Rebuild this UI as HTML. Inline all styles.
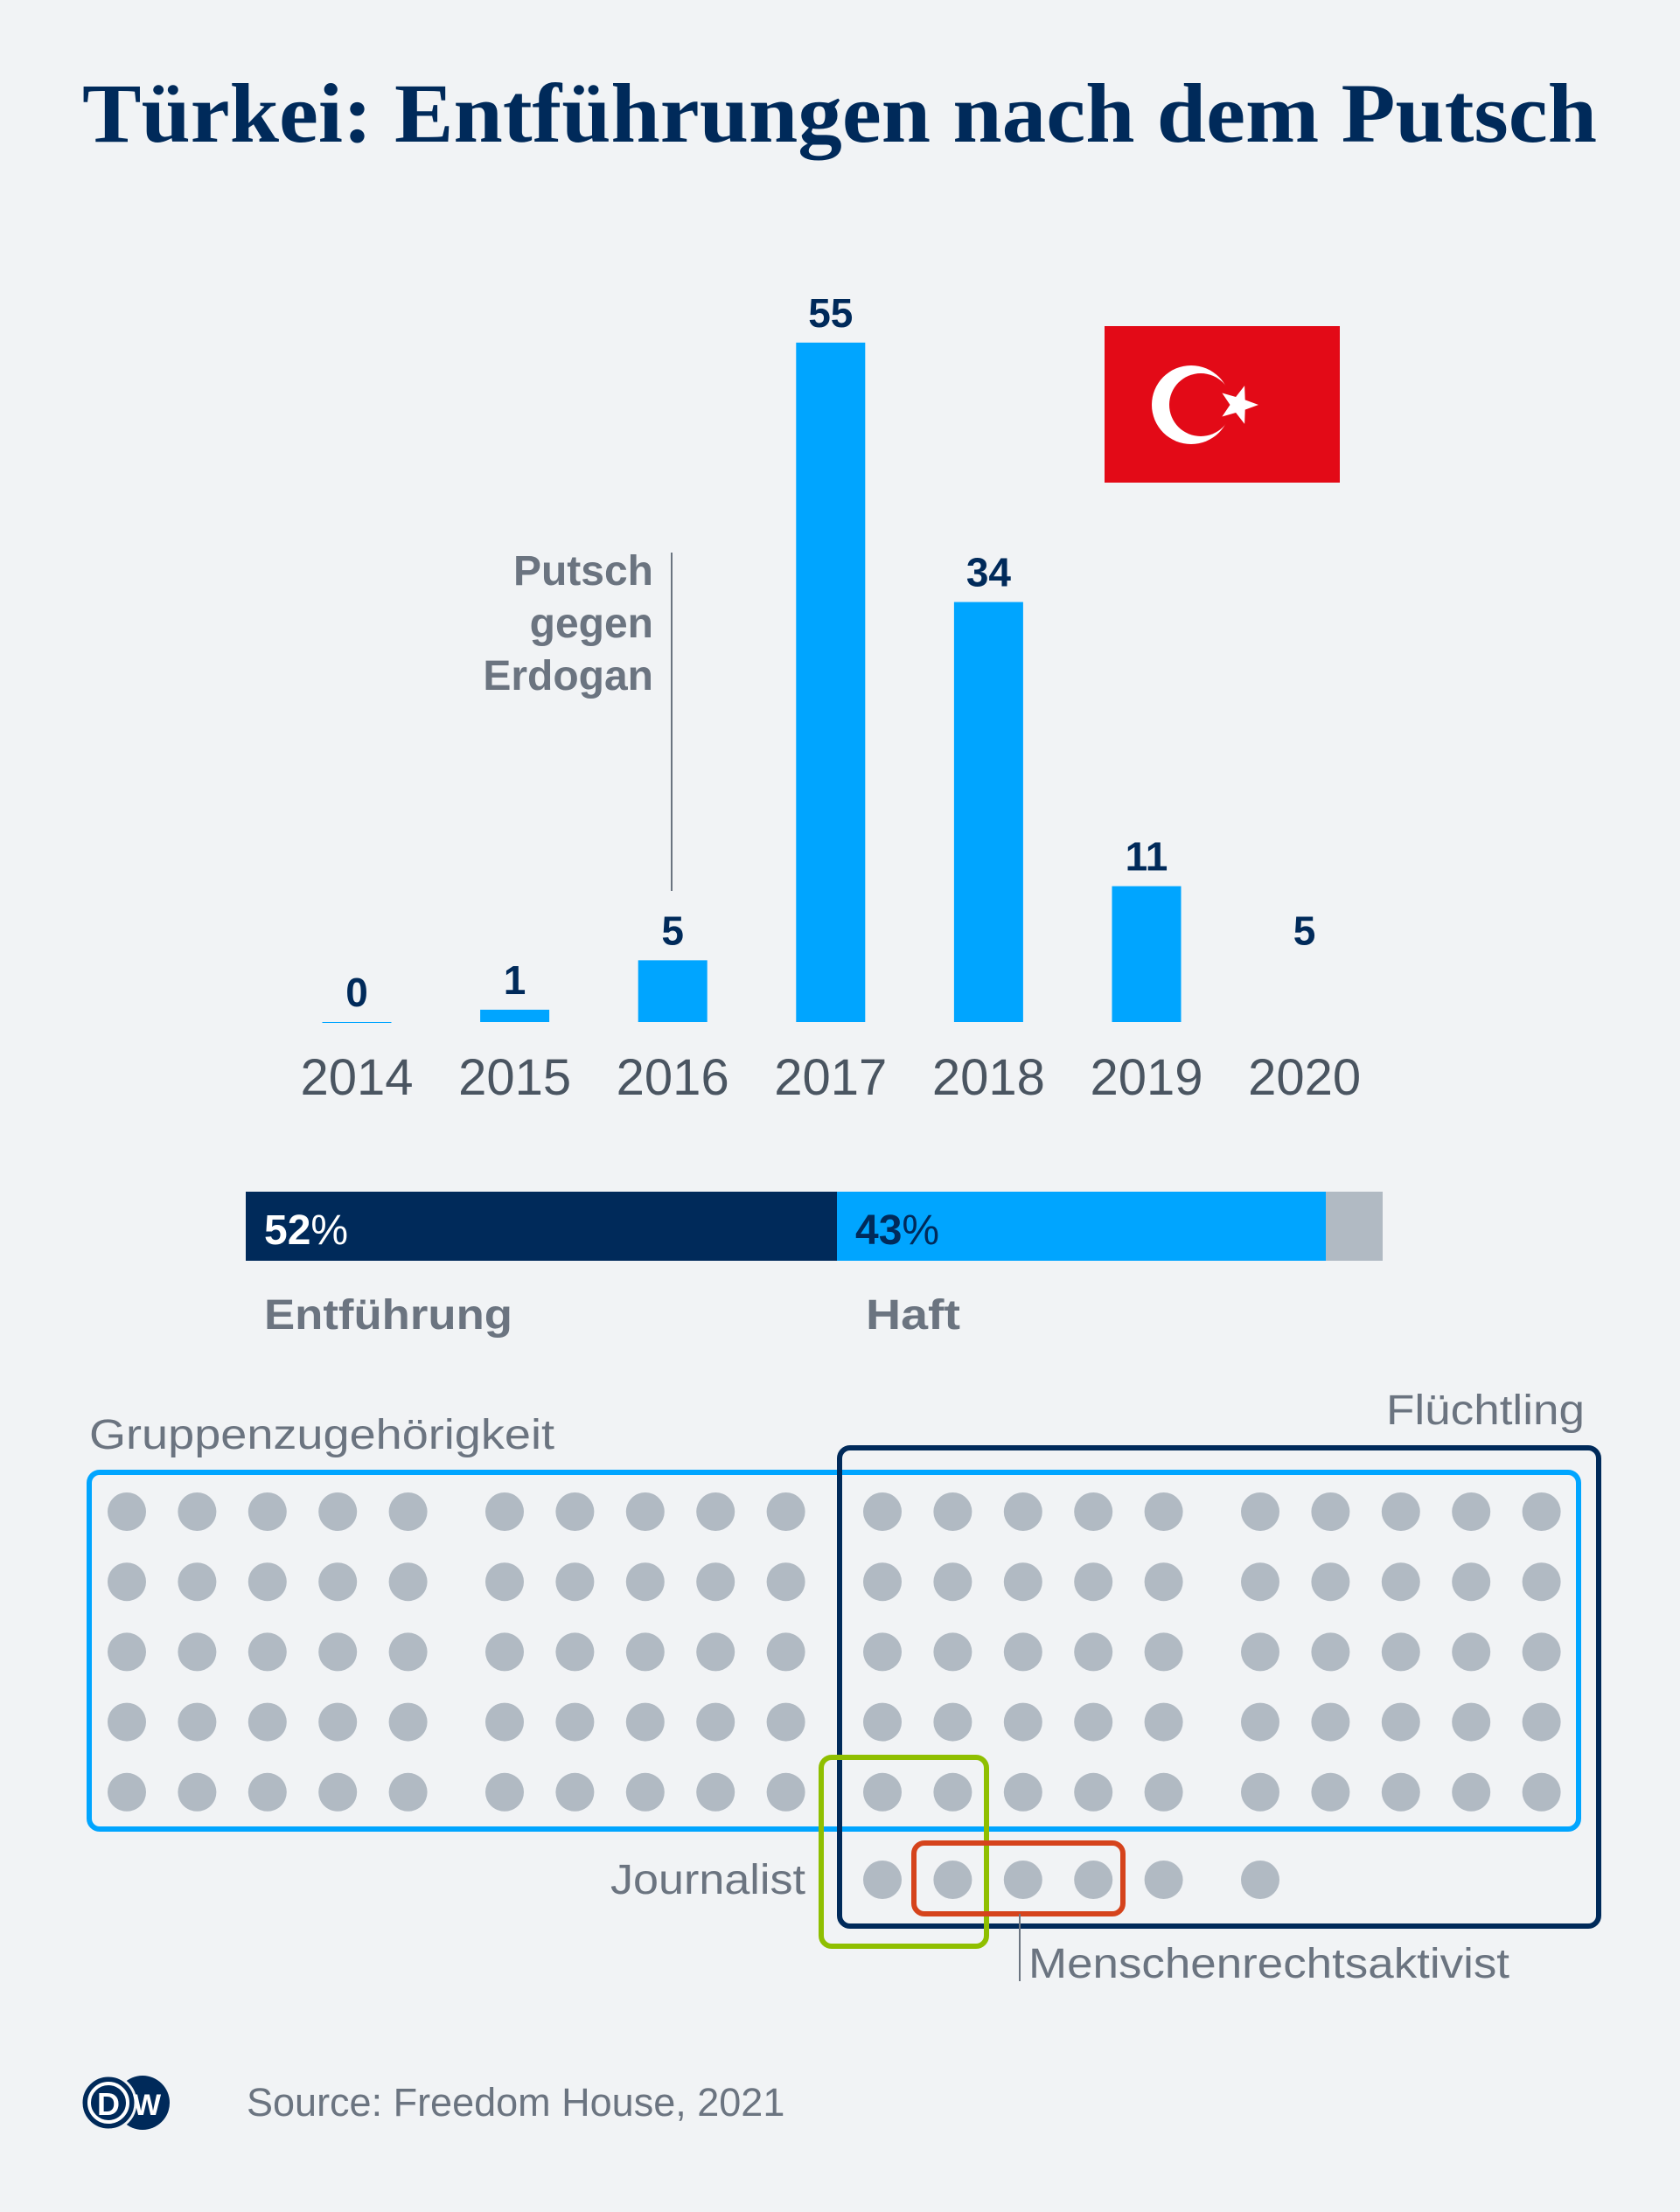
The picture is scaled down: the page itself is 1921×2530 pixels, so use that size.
<!DOCTYPE html>
<html><head><meta charset="utf-8">
<style>
html,body{margin:0;padding:0;background:#f1f3f5;}
svg{display:block;}
text{font-family:"Liberation Sans",sans-serif;}
</style></head>
<body>
<svg id="chart" width="1921" height="2530" viewBox="0 0 1921 2530" xmlns="http://www.w3.org/2000/svg">
<rect x="0" y="0" width="1921" height="2530" fill="#f1f3f5"/>
<text x="94" y="162" font-family="'Liberation Serif',serif" font-weight="bold" font-size="96" fill="#002a5a" textLength="1732" lengthAdjust="spacingAndGlyphs" style="font-family:'Liberation Serif',serif">Türkei: Entführungen nach dem Putsch</text>

<g>
<rect x="1263" y="373" width="269" height="179" fill="#e30a17"/>
<circle cx="1362" cy="463" r="45" fill="#ffffff"/>
<circle cx="1373" cy="463" r="36" fill="#e30a17"/>
<polygon id="star" fill="#ffffff"/>
</g>

<g id="bars"></g>

<g>
<line x1="768" y1="632" x2="768" y2="1019" stroke="#6b7480" stroke-width="2"/>
<text x="747" y="669" text-anchor="end" font-weight="bold" font-size="48" fill="#6b7480">Putsch</text>
<text x="747" y="729" text-anchor="end" font-weight="bold" font-size="48" fill="#6b7480">gegen</text>
<text x="747" y="789" text-anchor="end" font-weight="bold" font-size="48" fill="#6b7480">Erdogan</text>
</g>

<g id="stack"></g>
<text x="302" y="1520" font-weight="bold" font-size="48" fill="#6b7480" textLength="284" lengthAdjust="spacingAndGlyphs">Entführung</text>
<text x="990" y="1520" font-weight="bold" font-size="48" fill="#6b7480" textLength="108" lengthAdjust="spacingAndGlyphs">Haft</text>

<g id="dots"></g>

<rect x="102" y="1684" width="1703" height="408" rx="12" fill="none" stroke="#00a5ff" stroke-width="6"/>
<rect x="960" y="1656" width="868" height="547" rx="12" fill="none" stroke="#002a5a" stroke-width="6"/>
<rect x="939" y="2010" width="189" height="216" rx="12" fill="none" stroke="#8fbf00" stroke-width="6"/>
<rect x="1045" y="2108" width="239" height="81" rx="12" fill="none" stroke="#d5431c" stroke-width="6"/>
<line x1="1166" y1="2189" x2="1166" y2="2266" stroke="#6b7480" stroke-width="2"/>

<text x="102" y="1657" font-size="48" fill="#6b7480" textLength="532" lengthAdjust="spacingAndGlyphs">Gruppenzugehörigkeit</text>
<text x="1585" y="1629" font-size="48" fill="#6b7480" textLength="227" lengthAdjust="spacingAndGlyphs">Flüchtling</text>
<text x="698" y="2166" font-size="48" fill="#6b7480" textLength="223" lengthAdjust="spacingAndGlyphs">Journalist</text>
<text x="1176" y="2262" font-size="48" fill="#6b7480" textLength="550" lengthAdjust="spacingAndGlyphs">Menschenrechtsaktivist</text>

<g>
<circle cx="163" cy="2405" r="31" fill="#002a5a"/>
<circle cx="124" cy="2405" r="31" fill="#002a5a" stroke="#f1f3f5" stroke-width="3"/>
<circle cx="124" cy="2405" r="22" fill="none" stroke="#ffffff" stroke-width="4"/>
<text x="124" y="2419" text-anchor="middle" font-weight="bold" font-size="36" fill="#ffffff">D</text>
<text x="168" y="2419" text-anchor="middle" font-weight="bold" font-size="34" fill="#ffffff">W</text>
</g>
<text x="282" y="2420" font-size="45" fill="#6b7480">Source: Freedom House, 2021</text>
</svg>
<script>
const years = ["2014","2015","2016","2017","2018","2019","2020"];
const cases = [0, 1, 5, 55, 34, 11, 5];
const barVisible = [true, true, true, true, true, true, false];
const stackLabels = ["Entführung", "Haft", "Sonstige"];
const stackShares = [52, 43, 5];
const dotRows = [20, 20, 20, 20, 20, 6];

const NS = "http://www.w3.org/2000/svg";
function mk(tag, attrs, parent, txt){
  const e = document.createElementNS(NS, tag);
  for (const k in attrs) e.setAttribute(k, attrs[k]);
  if (txt !== undefined) e.textContent = txt;
  parent.appendChild(e);
  return e;
}
(function(){
  const cx=1416, cy=463, R=23, r=9.5, pts=[];
  for(let i=0;i<10;i++){const a=Math.PI/5*i; const rr=i%2?r:R; pts.push((cx+rr*Math.cos(a)).toFixed(1)+","+(cy+rr*Math.sin(a)).toFixed(1));}
  document.getElementById("star").setAttribute("points", pts.join(" "));
})();

const baseY = 1169, unit = 14.13, x0 = 408, step = 180.6, bw = 79;
const yScale = v => baseY - v*unit;
const xScale = i => x0 + i*step;
const bars = document.getElementById("bars");
years.forEach((yr,i)=>{
  const v = cases[i], top = yScale(v);
  const b = mk("rect",{x:xScale(i)-bw/2,y:top,width:bw,height:Math.max(baseY-top,1),fill:"#00a5ff",opacity:barVisible[i]?1:0},bars);
  
  
  const l = mk("text",{x:xScale(i),y:top-18,"text-anchor":"middle","font-weight":"bold","font-size":46,fill:"#002a5a"},bars,String(v));
  
  
  const t = mk("text",{x:xScale(i),y:1252,"text-anchor":"middle","font-size":58,fill:"#4a5561"},bars,yr);
  
  
});

const sx = 281, sw = 1300, sy = 1363, sh = 79;
const stackColors = ["#002a5a","#00a5ff","#b1bac3"];
const labelColors = ["#ffffff","#002a5a",null];
const stack = document.getElementById("stack");
const total = stackShares.reduce((a,b)=>a+b,0);
let acc = 0;
stackShares.forEach((s,i)=>{
  const x = sx + acc/total*sw, w = s/total*sw;
  const r = mk("rect",{x:x,y:sy,width:w,height:sh,fill:stackColors[i]},stack);
  
  
  if (labelColors[i]) {
    const t = mk("text",{x:x+21,y:1423,"font-size":48,fill:labelColors[i]},stack);
    
    
    mk("tspan",{"font-weight":"bold"},t,String(s));
    mk("tspan",{},t,"%");
  }
  acc += s;
});

const dots = document.getElementById("dots");
const dx0 = 145, dstep = 80.4, groupGap = 30, dy0 = 1729, dystep = 80.2;
const colX = c => dx0 + c*dstep + Math.floor(c/5)*groupGap;
const rowY = r => dy0 + r*dystep + (r === 5 ? 20 : 0);
dotRows.forEach((n,r)=>{
  const start = r === 5 ? 10 : 0;
  for (let k=0;k<n;k++){
    const c = start + k;
    const d = mk("circle",{cx:colX(c),cy:rowY(r),r:22,fill:"#b1bac3"},dots);
    
    
  }
});
</script>
</body></html>
